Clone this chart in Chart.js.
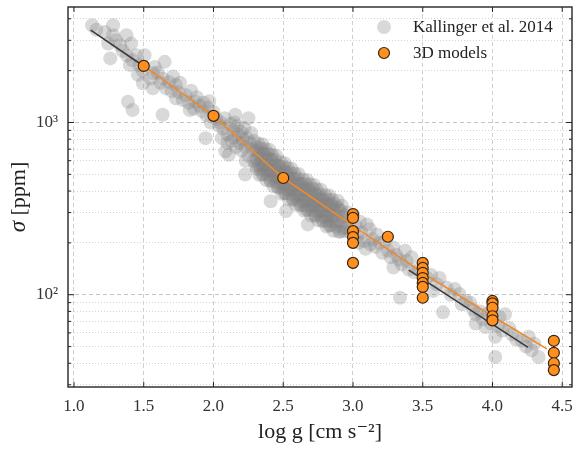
<!DOCTYPE html>
<html>
<head>
<meta charset="utf-8">
<script src="https://cdn.jsdelivr.net/npm/chart.js@4/dist/chart.umd.min.js"></script>
<style>
  html, body { margin: 0; padding: 0; background: #fff; }
</style>
</head>
<body>
<canvas id="sigmaChart" width="579" height="449"></canvas>
<script>
// Kallinger et al. 2014 stars: [log g, sigma in ppm]
const kallingerPoints = [
  [1.13,3670],[1.16,3450],[1.22,3350],[1.245,2870],[1.26,2355],[1.28,3670],[1.28,3210],[1.30,3000],
  [1.33,2810],[1.35,2600],[1.376,3210],[1.38,2450],[1.387,1320],[1.40,2160],[1.41,2870],[1.42,2300],
  [1.42,1180],[1.447,2460],[1.458,1890],[1.47,2150],[1.49,2000],[1.506,2460],
  [1.494,1690],[1.55,1800],[1.565,1930],[1.565,1580],[1.58,2100],[1.60,1950],[1.62,1700],[1.635,1800],
  [1.635,1108],[1.65,2250],[1.66,1580],[1.68,1720],[1.70,1520],[1.71,1850],[1.73,1650],[1.73,1380],
  [1.75,1500],[1.76,1700],[1.78,1350],[1.80,1445],[1.82,1300],[1.83,1180],[1.84,1530],[1.86,1200],
  [1.87,1320],[1.88,1400],[1.90,1250],[1.92,1160],[1.93,1300],[1.943,811],[1.95,1100],[1.96,1220],
  [1.97,1330],[1.98,1000],[2.00,1150],[2.02,1050],[2.04,960],
  [2.06,811],[2.085,680],[2.11,650],[2.156,1108],[2.25,1059],[2.227,499],[2.05,1000],[2.07,920],
  [2.08,1060],[2.10,850],[2.12,980],[2.13,780],[2.14,900],[2.15,820],[2.16,720],[2.17,950],
  [2.18,850],[2.19,760],[2.20,690],[2.20,880],[2.21,800],[2.22,930],[2.23,720],[2.24,810],
  [2.25,640],[2.26,760],[2.27,870],[2.28,700],[2.29,600],[2.29,780],[2.30,680],[2.30,560],
  [2.10,760],[2.15,1000],[2.23,600],
  [2.31,538],[2.31,717],[2.31,614],[2.32,756],[2.32,567],[2.32,655],[2.33,496],[2.33,670],[2.33,577],
  [2.34,708],[2.34,531],[2.34,610],[2.35,748],[2.35,573],[2.35,500],[2.36,653],[2.36,499],[2.36,665],
  [2.37,562],[2.37,702],[2.37,527],[2.38,600],[2.38,462],[2.38,623],[2.39,528],[2.39,659],[2.39,494],
  [2.40,560],[2.40,694],[2.40,532],[2.41,457],[2.41,606],[2.41,463],[2.42,607],[2.42,520],[2.42,650],
  [2.43,480],[2.43,554],[2.43,426],[2.44,567],[2.44,488],[2.44,609],[2.45,449],[2.45,516],[2.45,640],
  [2.46,483],[2.46,422],[2.46,559],[2.47,419],[2.47,559],[2.47,479],[2.48,589],[2.48,442],[2.48,511],
  [2.49,386],[2.49,522],[2.49,449],[2.50,551],[2.50,413],[2.50,475],[2.51,580],[2.51,445],[2.51,388],
  [2.52,507],[2.52,387],[2.52,516],[2.53,437],[2.53,546],[2.53,410],[2.54,466],[2.54,358],[2.54,484],
  [2.55,411],[2.55,513],[2.55,385],[2.56,435],[2.56,539],[2.56,413],[2.57,356],[2.57,472],[2.57,360],
  [2.58,473],[2.58,405],[2.58,506],[2.59,374],[2.59,433],[2.59,333],[2.60,443],[2.60,381],[2.60,476],
  [2.61,352],[2.61,405],[2.61,502],[2.62,380],[2.62,332],[2.62,440],[2.63,331],[2.63,441],[2.63,378],
  [2.64,467],[2.64,350],[2.64,405],[2.65,307],[2.65,415],[2.65,357],[2.66,440],[2.66,330],[2.66,379],
  [2.67,464],[2.67,355],[2.67,310],[2.68,406],[2.68,310],[2.68,413],[2.69,350],[2.69,438],[2.69,329],
  [2.70,374],[2.70,288],[2.70,389],[2.71,330],[2.71,412],[2.71,309],[2.72,350],[2.72,434],[2.72,333],
  [2.73,287],[2.73,381],[2.73,291],[2.74,382],[2.74,327],[2.74,409],[2.75,303],[2.75,350],[2.75,270],
  [2.76,359],[2.76,309],[2.76,385],[2.77,285],[2.77,328],[2.77,407],[2.78,308],[2.78,269],[2.78,356],
  [2.79,268],[2.79,357],[2.79,306],[2.80,378],[2.80,284],[2.80,328],[2.81,249],[2.81,336],[2.81,289],
  [2.82,357],[2.82,268],[2.82,308],[2.83,377],[2.83,289],[2.83,252],[2.84,331],[2.84,253],[2.84,337],
  [2.85,285],[2.85,356],[2.85,267],[2.86,306],[2.86,235],[2.86,318],[2.87,270],[2.87,336],[2.88,250],
  [2.88,287],[2.89,351],[2.89,269],[2.90,232],[2.90,308],[2.91,233],[2.91,310],[2.92,263],[2.92,329],
  [2.93,244],[2.93,282],[2.94,289],[2.95,246],[2.41,349],[2.52,306],[2.676,256],
  [2.89,320],[2.936,234],[3.10,256],[3.17,224],[3.125,196],[3.29,188],[3.373,180],[3.29,144],
  [3.337,96],[3.385,157],[2.97,270],[2.98,230],[3.00,290],[3.02,250],[3.03,215],[3.05,265],
  [3.06,230],[3.08,205],[3.12,240],[3.14,210],[3.16,190],[3.19,200],[3.21,175],[3.23,205],
  [3.25,180],[3.27,165],[3.31,170],[3.33,160],[3.35,150],[3.40,140],[3.42,165],[3.44,135],
  [2.96,300],[3.04,200],[3.09,185],
  [3.574,105],[3.67,110],[3.645,79],[3.763,101],[3.81,92],[3.88,77],[3.88,68],[3.95,65],
  [4.05,74],[4.09,77],[4.02,57],[4.02,43.5],[4.14,59],[4.21,54],[4.28,47.5],[4.33,43.5],
  [4.26,57],[3.47,140],[3.53,125],[3.56,130],[3.60,115],[3.62,125],[3.70,100],[3.73,108],
  [3.78,88],[3.84,90],[3.86,82],[3.91,80],[3.93,72],[3.97,78],[3.99,68],[4.00,82],
  [4.04,66],[4.07,62],[4.12,64],[4.17,55],[4.24,50],[4.30,52]
];

// 3D models
const modelLogg = [1.5, 2.0, 2.5, 3.0, 3.0, 3.0, 3.0, 3.0, 3.0, 3.25,
  3.5, 3.5, 3.5, 3.5, 3.5, 3.5, 3.5, 4.0, 4.0, 4.0, 4.0, 4.0, 4.44, 4.44, 4.44, 4.44];
const modelSigma = [2130, 1093, 476, 294, 279, 234, 216, 200, 153, 217,
  153, 143, 134, 125, 117, 111, 96, 92, 89, 84, 75, 71, 54, 46, 40, 36.5];

// fit lines (black one is only visible in two pieces)
const modelFitLogg = [1.5, 2.0, 2.5, 3.0, 3.5, 4.0, 4.39];
const modelFitSigma = [2130, 1093, 476, 252, 134, 75, 48.5];
const kallingerFitLogg = [1.12, 1.5, 2.45, 3.40, 4.255];
const kallingerFitSigma = [3440, 2120, null, 139, 49.5];

// axes
const xTicks = [1.0, 1.5, 2.0, 2.5, 3.0, 3.5, 4.0, 4.5];
const yTicks = [30, 40, 50, 60, 70, 80, 90, 100, 200, 300, 400, 500, 600, 700, 800, 900,
  1000, 2000, 3000, 4000];
const yLabels = { 100: '10²', 1000: '10³' };

const serif = "'Liberation Serif', 'DejaVu Serif', serif";
const grey = 'rgba(128,128,128,0.3)';
const orange = '#ff8f1f';
const toXY = (xs, ys) => xs.map((x, i) => ({ x: x, y: ys[i] }));

// frame, inward ticks, y title and legend
const extras = {
  id: 'extras',
  afterDatasetsDraw(chart) {
    const { ctx, chartArea: a, scales: { x, y } } = chart;
    ctx.save();
    ctx.strokeStyle = '#262626';
    ctx.lineWidth = 1.4;
    ctx.strokeRect(a.left, a.top, a.right - a.left, a.bottom - a.top);
    ctx.lineWidth = 1;
    ctx.beginPath();
    xTicks.forEach(v => {
      const px = x.getPixelForValue(v);
      ctx.moveTo(px, a.bottom); ctx.lineTo(px, a.bottom - 5);
      ctx.moveTo(px, a.top); ctx.lineTo(px, a.top + 5);
    });
    yTicks.forEach(v => {
      const py = y.getPixelForValue(v);
      const len = yLabels[v] ? 6 : 3;
      ctx.moveTo(a.left, py); ctx.lineTo(a.left + len, py);
      ctx.moveTo(a.right, py); ctx.lineTo(a.right - len, py);
    });
    ctx.stroke();

    // y title: italic sigma + [ppm]
    ctx.save();
    ctx.translate(19, 197);
    ctx.rotate(-Math.PI / 2);
    ctx.fillStyle = '#222';
    ctx.textBaseline = 'middle';
    const f1 = 'italic 23px ' + serif, f2 = '22px ' + serif;
    ctx.font = f1; const w1 = ctx.measureText('σ').width;
    ctx.font = f2; const w2 = ctx.measureText(' [ppm]').width;
    let sx = -(w1 + w2) / 2;
    ctx.font = f1; ctx.fillText('σ', sx, 0);
    ctx.font = f2; ctx.fillText(' [ppm]', sx + w1, 0);
    ctx.restore();

    // legend
    const items = [
      { label: 'Kallinger et al. 2014', r: 7, fill: grey, stroke: null, lw: 0 },
      { label: '3D models', r: 5.5, fill: orange, stroke: '#3b2410', lw: 1.2 }
    ];
    ctx.font = '17px ' + serif;
    ctx.textBaseline = 'middle';
    items.forEach((it, i) => {
      const cy = 27 + i * 26;
      ctx.beginPath();
      ctx.arc(384, cy, it.r, 0, Math.PI * 2);
      ctx.fillStyle = it.fill; ctx.fill();
      if (it.stroke) { ctx.lineWidth = it.lw; ctx.strokeStyle = it.stroke; ctx.stroke(); }
      ctx.fillStyle = '#222';
      ctx.fillText(it.label, 413, cy + 1);
    });
    ctx.restore();
  }
};

const config = {
  type: 'scatter',
  data: {
    datasets: [
      {
        label: '3D models',
        data: toXY(modelLogg, modelSigma),
        order: 1,
        pointRadius: 5.5,
        pointBackgroundColor: orange,
        pointBorderColor: '#3b2410',
        pointBorderWidth: 1.2
      },
      {
        label: 'fit 3D models',
        data: toXY(modelFitLogg, modelFitSigma),
        order: 2,
        showLine: true,
        borderColor: '#ee8a2c',
        borderWidth: 1.6,
        pointRadius: 0
      },
      {
        label: 'fit Kallinger',
        data: toXY(kallingerFitLogg, kallingerFitSigma),
        order: 3,
        showLine: true,
        spanGaps: false,
        borderColor: '#3a3a3a',
        borderWidth: 1.6,
        pointRadius: 0
      },
      {
        label: 'Kallinger et al. 2014',
        data: kallingerPoints.map(p => ({ x: p[0], y: p[1] })),
        order: 4,
        pointRadius: 7,
        pointBackgroundColor: grey,
        pointBorderWidth: 0
      }
    ]
  },
  options: {
    responsive: false,
    animation: false,
    layout: { padding: { top: 5, right: 2, left: 0, bottom: 0 } },
    scales: {
      x: {
        type: 'linear',
        min: 0.957,
        max: 4.57,
        afterBuildTicks: s => { s.ticks = xTicks.map(v => ({ value: v })); },
        afterFit: s => { s.height = 62; s.paddingLeft = 0; s.paddingRight = 0; },
        ticks: {
          padding: 9,
          color: '#333',
          font: { family: serif, size: 17 },
          callback: v => v.toFixed(1)
        },
        grid: { color: '#cfcfcf', lineWidth: 1, drawTicks: false },
        border: { display: false, dash: [4, 3] },
        title: {
          display: true,
          text: 'log g [cm s⁻²]',
          color: '#222',
          font: { family: serif, size: 22 },
          padding: { top: 0, bottom: 4 }
        }
      },
      y: {
        type: 'logarithmic',
        min: 29.12,
        max: 4683,
        afterBuildTicks: s => { s.ticks = yTicks.map(v => ({ value: v })); },
        afterFit: s => { s.width = 68; s.paddingTop = 0; s.paddingBottom = 0; },
        ticks: {
          padding: 10,
          color: '#333',
          font: { family: serif, size: 17 },
          autoSkip: false,
          callback: v => yLabels[v] || ''
        },
        grid: {
          drawTicks: false,
          lineWidth: 1,
          color: c => (c.tick && yLabels[c.tick.value]) ? '#c4c4c4' : '#d4d4d4'
        },
        border: {
          display: false,
          dash: c => (c.tick && yLabels[c.tick.value]) ? [4, 3] : [1, 2]
        }
      }
    },
    plugins: {
      legend: { display: false },
      tooltip: { enabled: false }
    }
  },
  plugins: [extras]
};

new Chart(document.getElementById('sigmaChart').getContext('2d'), config);
</script>
</body>
</html>
